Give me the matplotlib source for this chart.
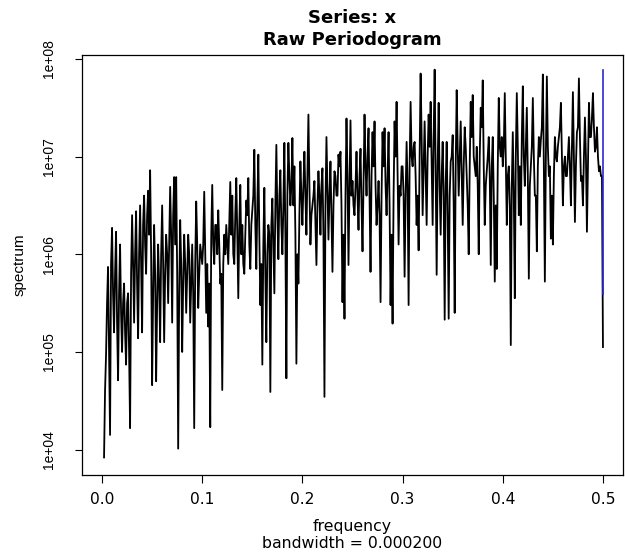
import numpy as np
import matplotlib
matplotlib.use("Agg")
import matplotlib.pyplot as plt

plt.rcParams['font.family'] = ['DejaVu Sans']

# log10 spectrum at frequencies 0.002, 0.004, ..., 0.500
freq_step = 0.002
log_spec_0 = [3.92, 4.97, 5.87, 4.15, 6.27, 5.2, 6.23, 4.71, 6.1, 5.0,
              5.7, 4.87, 5.6, 4.22, 6.4, 5.3, 6.44, 5.14, 6.5, 5.2,
              6.6, 5.8, 6.65, 6.86, 4.66, 6.3, 4.7, 6.1, 5.1, 6.5,
              5.1, 6.2, 5.5, 6.69, 5.3, 6.79, 6.79, 4.01, 6.35, 5.0,
              6.2, 5.4, 6.2, 5.3, 6.1, 4.22, 6.54, 5.45, 6.1, 5.9]
log_spec_1 = [6.64, 5.4, 5.26, 4.23, 6.71, 5.9, 6.3, 6.45, 5.7, 4.61,
              6.2, 6.3, 5.9, 6.74, 6.6, 5.9, 6.78, 5.55, 6.71, 6.3,
              5.8, 6.55, 6.78, 5.85, 6.45, 7.07, 5.85, 7.02, 5.48, 4.87,
              6.68, 5.1, 6.3, 4.59, 6.57, 5.6, 7.12, 5.95, 6.86, 6.0,
              7.14, 4.73, 7.14, 6.5, 7.19, 6.9, 4.88, 5.7, 6.95, 6.3]
log_spec_2 = [7.05, 6.2, 7.43, 6.1, 6.5, 6.75, 5.89, 6.85, 6.2, 6.88,
              4.54, 7.2, 6.15, 6.95, 5.82, 6.85, 6.6, 7.02, 7.05, 5.51,
              5.34, 7.39, 5.89, 7.37, 6.75, 6.4, 7.05, 6.25, 7.08, 6.03,
              7.43, 6.6, 7.29, 5.82, 7.25, 7.36, 6.3, 6.75, 5.51, 7.25,
              7.29, 6.4, 7.25, 5.48, 5.29, 7.36, 7.56, 6.1, 6.6, 6.9]
log_spec_3 = [5.77, 7.15, 5.48, 7.56, 6.9, 7.15, 6.3, 6.04, 7.85, 6.4,
              7.36, 6.3, 7.43, 7.56, 6.3, 7.89, 5.79, 7.55, 6.2, 7.15,
              5.33, 7.15, 5.34, 6.95, 7.22, 5.4, 7.68, 6.6, 7.36, 6.3,
              7.3, 6.8, 6.0, 7.56, 7.63, 6.9, 7.1, 6.0, 7.5, 7.78,
              6.3, 6.85, 7.2, 5.89, 7.2, 5.72, 5.85, 7.6, 7.0, 6.9]
log_spec_4 = [7.65, 6.3, 6.9, 5.07, 7.25, 5.55, 7.65, 6.4, 6.3, 7.72,
              6.7, 7.5, 5.75, 6.9, 7.6, 6.6, 6.03, 7.2, 7.17, 7.84,
              5.72, 7.82, 6.8, 6.16, 6.1, 7.2, 6.95, 7.2, 7.55, 6.5,
              7.0, 6.8, 7.2, 6.5, 7.66, 6.33, 7.25, 7.8, 6.75, 6.5,
              7.4, 6.23, 7.55, 7.2, 7.65, 7.05, 7.3, 6.85, 6.8, 5.05]

# log10 spectrum at the in-between frequencies 0.003, 0.005, ..., 0.499
log_mid_0 = [4.6, 5.5, 5.0, 5.9, 5.6, 5.8, 5.3, 5.6, 5.4, 5.5,
             5.2, 5.5, 5.0, 5.8, 5.9, 6.0, 5.7, 6.0, 5.9, 6.3,
             6.1, 6.4, 6.2, 6.0, 5.6, 5.8, 5.5, 5.7, 6.0, 5.9,
             5.8, 6.0, 6.1, 6.2, 6.4, 6.1, 5.8, 5.6, 5.9, 5.7,
             5.9, 5.8, 6.0, 5.7, 5.6, 5.9, 6.1, 5.8, 6.0, 6.1]
log_mid_1 = [6.0, 5.9, 5.7, 6.2, 6.1, 6.3, 6.0, 6.1, 5.8, 5.9,
             6.0, 6.1, 6.3, 6.2, 6.0, 6.4, 6.2, 6.3, 6.0, 5.9,
             6.2, 6.4, 6.1, 6.3, 6.6, 6.3, 6.5, 6.2, 5.9, 6.1,
             5.8, 6.0, 6.2, 6.3, 6.1, 6.5, 6.4, 6.6, 6.3, 6.5,
             6.2, 6.6, 6.8, 6.7, 6.5, 6.2, 6.0, 6.4, 6.6, 6.7]
log_mid_2 = [6.6, 6.8, 6.7, 6.4, 6.6, 6.3, 6.5, 6.6, 6.7, 6.2,
             6.5, 6.7, 6.6, 6.4, 6.5, 6.8, 6.6, 6.9, 6.5, 6.2,
             6.6, 6.8, 6.7, 6.6, 6.5, 6.7, 6.6, 6.8, 6.5, 6.7,
             6.9, 7.0, 6.6, 6.8, 6.9, 6.7, 6.5, 6.4, 6.6, 6.9,
             6.7, 6.8, 6.5, 6.2, 6.6, 7.0, 6.8, 6.7, 6.9, 6.6]
log_mid_3 = [6.6, 6.7, 6.9, 7.0, 7.1, 6.8, 6.6, 7.0, 7.2, 6.9,
             6.8, 7.0, 7.1, 6.9, 7.2, 6.8, 6.9, 6.7, 6.8, 6.6,
             6.7, 6.4, 6.6, 7.0, 6.5, 6.9, 7.1, 7.0, 6.8, 6.9,
             7.1, 6.5, 6.9, 7.2, 7.0, 6.8, 6.7, 7.0, 7.3, 6.9,
             6.7, 7.0, 6.8, 6.9, 6.6, 6.5, 6.9, 7.1, 7.2, 7.1]
log_mid_4 = [7.0, 6.8, 6.5, 6.7, 6.6, 7.0, 7.1, 6.9, 7.2, 7.0,
             7.1, 6.8, 6.7, 7.1, 7.0, 6.6, 6.9, 7.0, 7.3, 6.9,
             7.0, 7.1, 6.9, 6.6, 6.8, 7.0, 7.1, 7.3, 7.0, 6.9,
             6.8, 7.0, 6.9, 7.1, 7.0, 6.9, 7.3, 7.2, 6.8, 7.0,
             7.0, 6.9, 7.2, 7.4, 7.3, 7.1, 7.0, 6.9, 6.8, 6.7]

bandwidth = 0.000200
conf_lim = [0.26, 52.0]   # CI factors for the periodogram

x_ticks = [0.0, 0.1, 0.2, 0.3, 0.4, 0.5]
x_ticklabels = ['0.0', '0.1', '0.2', '0.3', '0.4', '0.5']
y_ticks = [1e4, 1e5, 1e6, 1e7, 1e8]
y_ticklabels = ['1e+04', '1e+05', '1e+06', '1e+07', '1e+08']

main_vals = np.array(log_spec_0 + log_spec_1 + log_spec_2 + log_spec_3 + log_spec_4)
mid_vals = np.array(log_mid_0 + log_mid_1 + log_mid_2 + log_mid_3 + log_mid_4)
n = len(main_vals)
main_freq = freq_step * np.arange(1, n + 1)
mid_freq = main_freq[:-1] + freq_step / 2
m = min(len(mid_freq), len(mid_vals))
freq = np.concatenate([main_freq, mid_freq[:m]])
logv = np.concatenate([main_vals, mid_vals[:m]])
order = np.argsort(freq)
freq = freq[order]
spec = 10.0 ** logv[order]

W, H = 625, 558
fig = plt.figure(figsize=(W / 100, H / 100), dpi=100)
ax = fig.add_axes([82 / W, 1 - 475 / H, (623 - 82) / W, (475 - 55) / H])

ax.plot(freq, spec, color='black', lw=1.3)

# confidence interval bar (blue)
conf_y = spec.max() / conf_lim[1]
conf_x = freq.max() - bandwidth
ax.plot([conf_x, conf_x], [conf_y * conf_lim[0], conf_y * conf_lim[1]], color='#2a2ad0', lw=1.2)
ax.plot([conf_x - bandwidth / 2, conf_x + bandwidth / 2], [conf_y, conf_y], color='#2a2ad0', lw=1.2)

ax.set_yscale('log')
ax.set_xlim(-0.02, 0.52)
ax.set_ylim(10 ** 3.74, 10 ** 8.04)
ax.set_xticks(x_ticks)
ax.set_xticklabels(x_ticklabels)
ax.set_yticks(y_ticks)
ax.set_yticklabels(y_ticklabels, rotation=90, va='center',
                   fontfamily='Liberation Sans', fontsize=10)
ax.yaxis.set_minor_locator(matplotlib.ticker.NullLocator())
ax.tick_params(axis='x', length=6, width=0.8, labelsize=11.2, pad=6)
ax.tick_params(axis='y', length=5, width=0.8, pad=14)
for s in ax.spines.values():
    s.set_linewidth(0.9)

fig.text(352 / W, 1 - 18 / H, 'Series: x', ha='center', va='center', fontsize=13, fontweight='bold')
fig.text(352 / W, 1 - 40 / H, 'Raw Periodogram', ha='center', va='center', fontsize=13, fontweight='bold')
fig.text(352 / W, 1 - 527 / H, 'frequency', ha='center', va='center', fontsize=11.3)
fig.text(352 / W, 1 - 543 / H, 'bandwidth = 0.000200', ha='center', va='center', fontsize=11.3)
fig.text(20 / W, 1 - 265 / H, 'spectrum', ha='center', va='center', fontsize=11,
         rotation=90, fontfamily='Liberation Sans')

fig.savefig('out.png', dpi=100)
